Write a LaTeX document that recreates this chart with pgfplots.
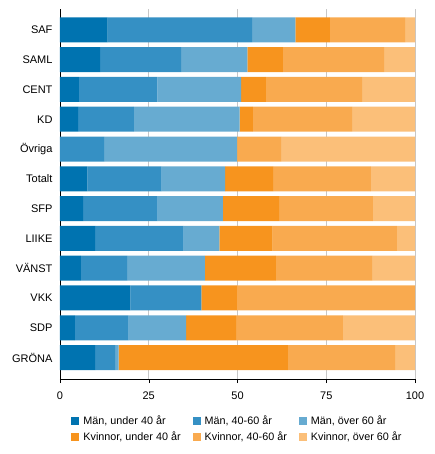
\documentclass[border=0pt]{standalone}
\usepackage{pgfplots}
\pgfplotsset{compat=1.18}
\usepackage{pgfplotstable}
\usepackage{fontspec}
\setmainfont{Liberation Sans}

\definecolor{manA}{HTML}{0073B0}
\definecolor{manB}{HTML}{3590C4}
\definecolor{manC}{HTML}{67ABD1}
\definecolor{kviA}{HTML}{F7941E}
\definecolor{kviB}{HTML}{F9AA4F}
\definecolor{kviC}{HTML}{FBBF79}

% andelar (%) per parti, y = position fran botten
\pgfplotstableread{
y   a     b     c     d     e     f
0   9.9   5.6   1.0   47.7  30.2  5.6
1   4.2   15.1  16.2  14.1  30.1  20.3
2   19.8  20.0  0     10.0  50.2  0
3   5.9   13.0  21.9  20.0  27.1  12.1
4   9.9   24.9  10.1  15.0  35.0  5.1
5   6.5   21.0  18.4  15.8  26.4  11.9
6   7.7   20.9  17.9  13.5  27.6  12.4
7   0     12.4  37.5  0     12.4  37.7
8   5.1   15.7  29.8  3.7   28.0  17.7
9   5.3   22.1  23.6  7.0   27.1  14.9
10  11.3  22.8  18.7  10.0  28.5  8.7
11  13.4  40.7  12.2  9.7   21.2  2.8
}\andelar

\begin{document}
\begin{tikzpicture}
\useasboundingbox (-60pt,-75pt) rectangle (375pt,379pt);
\begin{axis}[
    xbar stacked,
    bar width=25pt,
    width=355pt, height=370pt, scale only axis,
    xmin=0, xmax=100,
    ymin=-0.72, ymax=11.7,
    xtick={0,25,50,75,100},
    ytick={0,...,11},
    yticklabels={GRÖNA,SDP,VKK,VÄNST,LIIKE,SFP,Totalt,Övriga,KD,CENT,SAML,SAF},
    axis x line*=bottom, axis y line*=left,
    axis line style={black,-},
    xmajorgrids,
    grid style={black!22, line width=0.8pt},
    tick align=outside,
    major tick length=4pt,
    ytick style={draw=none},
    xtick style={black},
    tick label style={font=\fontsize{11}{13}\selectfont},
    xticklabel style={yshift=-5pt},
    /pgf/number format/assume math mode=true,
    legend columns=3,
    legend cell align=left,
    legend style={draw=none, at={(0.5,0)}, anchor=north, yshift=-33pt,
        font=\fontsize{10.8}{13}\selectfont, row sep=1.5pt,
        /tikz/every even column/.append style={column sep=10pt}},
    legend image code/.code={\fill[#1] (0pt,-4pt) rectangle (8pt,4pt); \path (10pt,0pt);},
]
\addplot[fill=manA, draw=none] table[x=a, y=y] {\andelar};
\addplot[fill=manB, draw=none] table[x=b, y=y] {\andelar};
\addplot[fill=manC, draw=none] table[x=c, y=y] {\andelar};
\addplot[fill=kviA, draw=none] table[x=d, y=y] {\andelar};
\addplot[fill=kviB, draw=none] table[x=e, y=y] {\andelar};
\addplot[fill=kviC, draw=none] table[x=f, y=y] {\andelar};
\legend{{Män, under 40 år}, {Män, 40-60 år}, {Män, över 60 år},
        {Kvinnor, under 40 år}, {Kvinnor, 40-60 år}, {Kvinnor, över 60 år}}
\end{axis}
\end{tikzpicture}
\end{document}
